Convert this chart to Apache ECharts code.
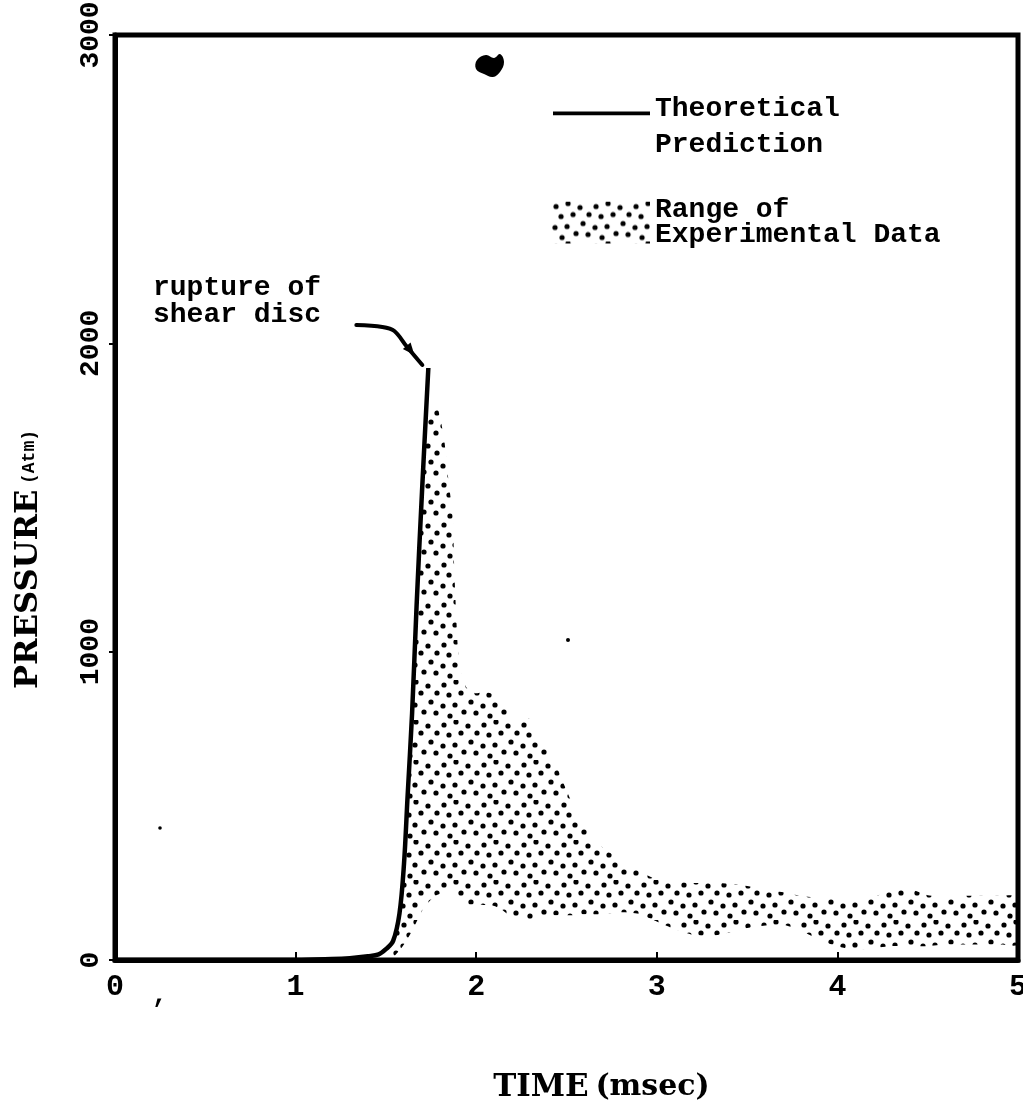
<!DOCTYPE html>
<html>
<head>
<meta charset="utf-8">
<script src="https://cdn.jsdelivr.net/npm/echarts@6/dist/echarts.min.js"></script>
<style>
html,body{margin:0;padding:0;background:#fff;}
#chart{width:1023px;height:1102px;}
</style>
</head>
<body>
<div id="chart"></div>
<script>
// ---- data ----
var xTicks = [0, 1, 2, 3, 4, 5];
var yTicks = [0, 1000, 2000, 3000];

var theoTime     = [0, 0.5, 1.0, 1.2, 1.3, 1.4, 1.46, 1.5, 1.54, 1.575, 1.6, 1.62, 1.645, 1.67, 1.70, 1.735];
var theoPressure = [0, 0,   0,   3,   6,   12,  18,   35,  62,   150,   310, 530,  800,   1150, 1520, 1920];

var bandTime = [1.50,1.55,1.60,1.65,1.70,1.74,1.78,1.82,1.85,1.87,1.88,1.90,1.92,1.95,2.00,2.05,2.10,2.15,2.20,2.25,2.30,2.35,2.40,2.45,2.50,2.55,2.60,2.65,2.70,2.80,2.90,3.00,3.10,3.20,3.30,3.40,3.50,3.60,3.70,3.80,3.90,4.00,4.10,4.20,4.30,4.40,4.50,4.60,4.70,4.80,4.90,5.00];
var bandLow  = [0,15,50,100,160,190,210,220,225,225,222,200,185,180,180,178,175,160,135,128,132,140,145,145,145,146,148,148,148,155,150,125,100,82,78,88,104,112,114,95,65,45,33,40,45,45,45,50,50,50,50,50];
var bandHigh = [0,70,310,850,1520,1780,1800,1700,1537,1440,1244,1000,920,880,865,870,860,845,790,790,780,720,680,620,550,485,440,400,365,325,290,260,255,250,250,248,240,228,220,208,200,198,195,205,225,230,210,205,208,208,208,205];

var theoName = 'Theoretical\nPrediction';
var bandName = 'Range of\nExperimental Data';

// ---- stipple fill pattern (style only) ----
function makeStipple() {
  var c = document.createElement('canvas');
  c.width = 40; c.height = 40;
  var g = c.getContext('2d');
  g.fillStyle = '#000';
  var dots = [[4,5],[16,2],[28,6],[37,13],[9,15],[21,13],[31,22],[3,26],[15,25],[24,32],[36,33],[10,36]];
  dots.forEach(function (d) {
    g.beginPath(); g.arc(d[0], d[1], 2.6, 0, Math.PI * 2); g.fill();
  });
  return c;
}
var stipple = { image: makeStipple(), repeat: 'repeat' };

function zip(a, b) { return a.map(function (v, i) { return [v, b[i]]; }); }

var chart = echarts.init(document.getElementById('chart'));
var monoBold = { fontFamily: 'Liberation Mono', fontWeight: 'bold', color: '#000' };

var option = {
  backgroundColor: '#fff',
  animation: false,
  grid: { left: 115, right: 5, top: 35, bottom: 142, containLabel: false, outerBoundsMode: 'none',
          show: true, borderColor: '#000', borderWidth: 5 },
  legend: [
    {
      data: [theoName], left: 553, top: 91, padding: 0, orient: 'vertical',
      itemWidth: 97, itemHeight: 44,
      icon: 'path://M0,6 L100,6 L100,10 L0,10 Z M0,0 L1,0 L0,0 Z M0,44 L1,44 L0,44 Z',
      itemStyle: { color: '#000' },
      textStyle: Object.assign({ fontSize: 28, lineHeight: 36 }, monoBold),
      selectedMode: false
    },
    {
      data: [bandName], left: 552, top: 196, padding: 0, orient: 'vertical',
      itemWidth: 98, itemHeight: 42, icon: 'rect',
      itemStyle: { color: stipple },
      textStyle: Object.assign({ fontSize: 28, lineHeight: 25 }, monoBold),
      selectedMode: false
    }
  ],
  xAxis: {
    type: 'value', min: 0, max: 5, interval: 1,
    name: '{a|TIME}{s| }{b|(msec)}', nameLocation: 'middle', nameGap: 112,
    nameTextStyle: { padding: [0, 0, 0, 70], rich: {
      a: { fontFamily: 'DejaVu Serif', fontWeight: 'bold', fontSize: 31, color: '#000' },
      s: { fontSize: 24 },
      b: { fontFamily: 'DejaVu Serif', fontWeight: 'bold', fontSize: 30, color: '#000' }
    } },
    axisLine: { lineStyle: { color: '#000', width: 5 } },
    axisTick: { inside: true, length: 8, lineStyle: { color: '#000', width: 2 } },
    axisLabel: Object.assign({ fontSize: 30, margin: 12, showMaxLabel: true, showMinLabel: true,
      formatter: function (v) { return xTicks.indexOf(v) >= 0 ? String(v) : ''; } }, monoBold),
    splitLine: { show: false }
  },
  yAxis: {
    type: 'value', min: 0, max: 3000, interval: 1000,
    name: '{a|PRESSURE}{s| }{b|(Atm)}', nameLocation: 'middle', nameGap: 70, nameRotate: 90,
    nameTextStyle: { padding: [0, 124, 0, 0], rich: {
      a: { fontFamily: 'DejaVu Serif', fontWeight: 'bold', fontSize: 32, color: '#000' },
      s: { fontSize: 20 },
      b: { fontFamily: 'Liberation Mono', fontWeight: 'bold', fontSize: 18, color: '#000' }
    } },
    axisLine: { show: true, lineStyle: { color: '#000', width: 5 } },
    axisTick: { show: true, length: 6, lineStyle: { color: '#000', width: 2 } },
    axisLabel: Object.assign({ fontSize: 28, margin: 10, rotate: 90, showMaxLabel: true, showMinLabel: true,
      formatter: function (v) { return yTicks.indexOf(v) >= 0 ? String(v) : ''; } }, monoBold),
    splitLine: { show: false }
  },
  series: [
    {
      name: bandName, type: 'custom', silent: true, z: 2,
      itemStyle: { color: '#000' },
      data: bandTime.map(function (t, i) { return [t, bandLow[i], bandHigh[i]]; }),
      encode: { x: 0, y: [1, 2] },
      renderItem: function (params, api) {
        if (params.dataIndex !== 0) return null;
        var pts = [];
        for (var i = 0; i < bandTime.length; i++) pts.push(api.coord([bandTime[i], bandHigh[i]]));
        for (var j = bandTime.length - 1; j >= 0; j--) pts.push(api.coord([bandTime[j], bandLow[j]]));
        return { type: 'polygon', shape: { points: pts, smooth: 0.2 }, style: { fill: stipple } };
      }
    },
    {
      name: theoName, type: 'line', data: zip(theoTime, theoPressure),
      symbol: 'none', smooth: 0.35, silent: true,
      itemStyle: { color: '#000' },
      lineStyle: { color: '#000', width: 4.5 }, z: 5
    }
  ]
};
chart.setOption(option);

// annotation anchored to the top of the theoretical curve
var n = theoTime.length - 1;
var T = chart.convertToPixel({ gridIndex: 0 }, [theoTime[n], theoPressure[n]]);
var tx = T[0], ty = T[1];
var d = [0.635, 0.773], A = [tx - 14, ty - 13];
var B = [A[0] - 12 * d[0], A[1] - 12 * d[1]], nv = [-0.773 * 5, 0.635 * 5];
chart.setOption({
  graphic: [
    { type: 'text', x: 153, y: 274, silent: true, style: {
      text: 'rupture of\nshear disc', font: 'bold 28px "Liberation Mono"', fill: '#000', lineHeight: 27 } },
    { type: 'polyline', silent: true, shape: { smooth: 0.35, points: [
        [tx - 72, ty - 43], [tx - 46, ty - 41], [tx - 34, ty - 37], [tx - 22, ty - 22], [tx - 6, ty - 3]] },
      style: { stroke: '#000', lineWidth: 4, fill: null, lineCap: 'round' } },
    { type: 'polygon', silent: true,
      shape: { points: [A, [B[0] + nv[0], B[1] + nv[1]], [B[0] - nv[0], B[1] - nv[1]]] },
      style: { fill: '#000' } },
    // scan specks of the original print
    { type: 'polygon', silent: true, shape: { smooth: 0.4, points: [[477,60],[486,55],[494,58],[500,54],[504,62],[500,72],[493,77],[484,74],[476,69]] },
      style: { fill: '#000' } },
    { type: 'text', x: 152, y: 982, silent: true, style: { text: ',', font: 'bold 26px "Liberation Mono"', fill: '#000' } },
    { type: 'circle', silent: true, shape: { cx: 160, cy: 828, r: 1.8 }, style: { fill: '#000' } },
    { type: 'circle', silent: true, shape: { cx: 568, cy: 640, r: 2 }, style: { fill: '#000' } }
  ]
});
</script>
</body>
</html>
